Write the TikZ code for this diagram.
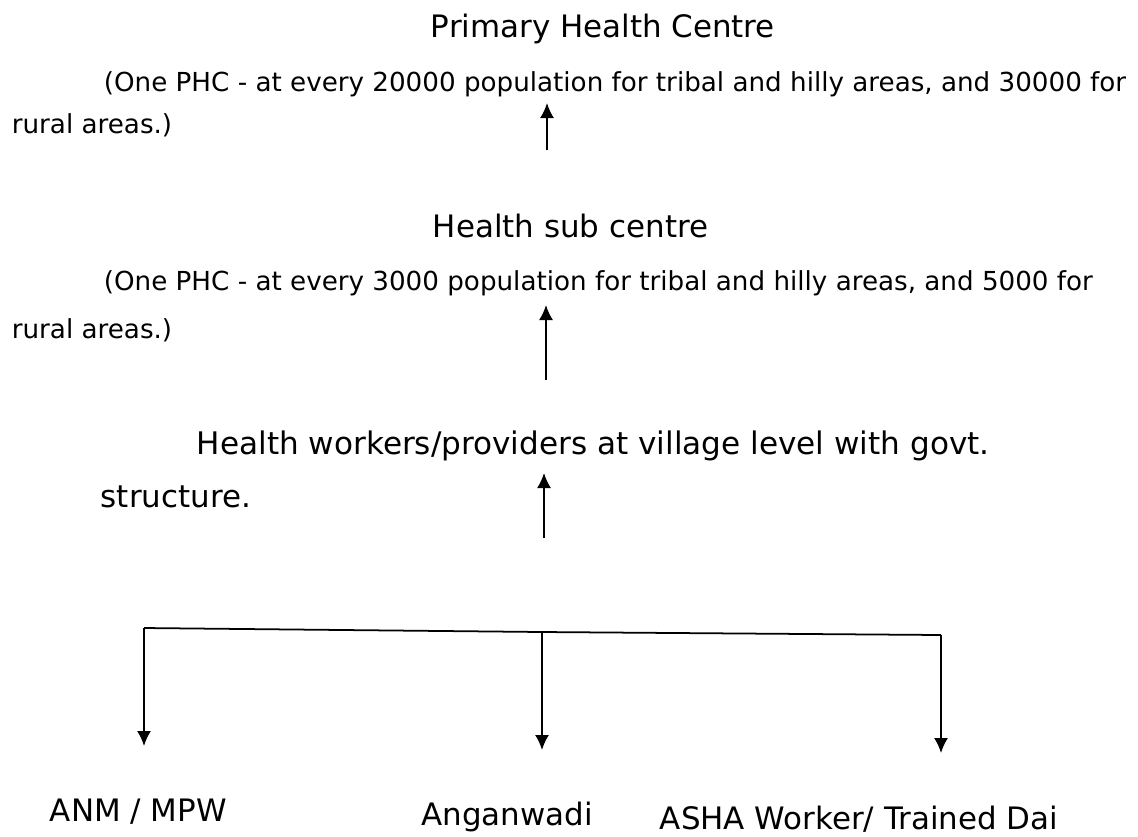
\documentclass[tikz,border=0pt]{standalone}
\usepackage{fontspec}
\setmainfont{DejaVu Sans}
\usetikzlibrary{arrows.meta,positioning}

\tikzset{
  note/.style={anchor=base west, inner sep=0pt, font=\fontsize{14.9}{18}\selectfont},
  head/.style={anchor=base west, inner sep=0pt, font=\fontsize{17.6}{21}\selectfont},
}

\begin{document}
\begin{tikzpicture}[x=0.02cm,y=-0.02cm,>={Latex[length=3mm,width=2.8mm]},line width=1pt]
  \useasboundingbox (0,0) rectangle (1138,836);
  % Primary health centre
  \node[head] (phc) at (430,37) {Primary Health Centre};
  \node[note] (phcnote) at (103,91) {(One PHC - at every 20000 population for tribal and hilly areas, and 30000 for};
  \node[note] (phcrural) at (11,133) {rural areas.)};
  % Sub centre
  \node[head] (subc) at (432,237) {Health sub centre};
  \node[note] (subnote) at (103,290) {(One PHC - at every 3000 population for tribal and hilly areas, and 5000 for};
  \node[note] (subrural) at (11,338) {rural areas.)};
  % Village level
  \node[head,font=\fontsize{17.7}{21}\selectfont] (village) at (196,454) {Health workers/providers at village level with govt.};
  \node[head] (villagecont) at (100,507) {structure.};
  % Workers
  \node[head] (anm) at (49,821) {ANM / MPW};
  \node[head,anchor=base] (angan) at (507,825) {Anganwadi};
  \node[head] (asha) at (659,829) {ASHA Worker/ Trained Dai};
  % Arrows going up
  \coordinate (up1s) at (547,150);
  \coordinate (up1e) at (547,103);
  \coordinate (up2s) at (546,380);
  \coordinate (up2e) at (546,305);
  \coordinate (up3s) at (544,538);
  \coordinate (up3e) at (544,473);
  \draw[->] (up1s) -- (up1e);
  \draw[->] (up2s) -- (up2e);
  \draw[->] (up3s) -- (up3e);
  % Branch to the workers
  \coordinate (barl) at (144,628);
  \coordinate (barm) at (542,632);
  \coordinate (barr) at (941,635);
  \draw (barl) -- (barm) -- (barr);
  \draw[->] (barl) -- (144,746);
  \draw[->] (barm) -- (542,750);
  \draw[->] (barr) -- (941,753);
\end{tikzpicture}
\end{document}
